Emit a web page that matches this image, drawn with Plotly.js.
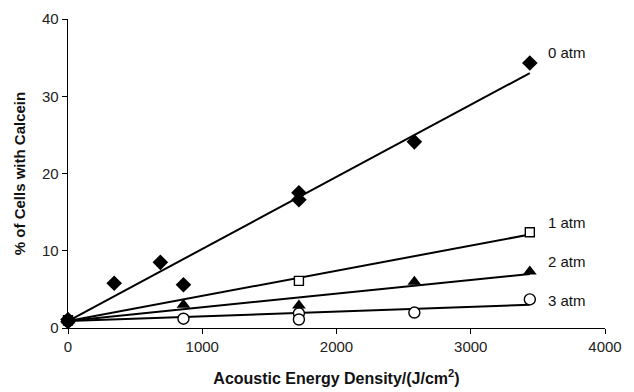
<!DOCTYPE html>
<html>
<head>
<meta charset="utf-8">
<script src="https://cdn.plot.ly/plotly-3.0.1.min.js"></script>
<style>html,body{margin:0;padding:0;background:#fff}#chart{width:634px;height:392px}</style>
</head>
<body>
<div id="chart"></div>
<script>
// Measured points
const x0 = [0, 0, 344, 688, 860, 1720, 1720, 2580, 3440];
const y0 = [1.1, 0.8, 5.8, 8.5, 5.6, 17.5, 16.6, 24.1, 34.3];
const x1 = [0, 1720, 3440];
const y1 = [1.0, 6.1, 12.4];
const x2 = [0, 860, 1720, 2580, 3440];
const y2 = [1.0, 3.0, 2.9, 6.0, 7.3];
const x3 = [0, 860, 1720, 1720, 2580, 3440];
const y3 = [0.9, 1.2, 1.9, 1.1, 2.0, 3.7];
// Linear trend lines (endpoints)
const fitX = [0, 3440];
const fit0 = [0.9, 33.0];
const fit1 = [0.9, 12.1];
const fit2 = [0.9, 7.0];
const fit3 = [0.9, 3.0];
const labels = ["0 atm", "1 atm", "2 atm", "3 atm"];
const labelY = [35.6, 13.6, 8.6, 3.6];
const labelX = 3560;

const lineStyle = {color: '#000', width: 2};
function fit(y) {
  return {x: fitX, y: y, mode: 'lines', line: lineStyle, showlegend: false, hoverinfo: 'skip', cliponaxis: false};
}
function pts(x, y, sym, size, open) {
  return {x: x, y: y, mode: 'markers', showlegend: false, cliponaxis: false,
    marker: {symbol: sym, size: size, color: open ? '#fff' : '#000',
      line: {color: '#000', width: open ? 1.4 : 0}}};
}
const data = [
  fit(fit0), fit(fit1), fit(fit2), fit(fit3),
  pts(x3, y3, 'circle', 11, true),
  pts(x1, y1, 'square', 9, true),
  pts(x2, y2, 'triangle-up', 12, false),
  pts(x0, y0, 'diamond', 12, false)
];
const font = {family: 'Liberation Sans, Arial, sans-serif', color: '#222', size: 15};
const layout = {
  width: 634, height: 392,
  margin: {l: 68, r: 29, t: 19, b: 64},
  paper_bgcolor: '#fff', plot_bgcolor: '#fff',
  font: font,
  showlegend: false,
  xaxis: {
    range: [0, 4000], tickvals: [0, 1000, 2000, 3000, 4000],
    showgrid: false, zeroline: false, showline: true, linecolor: '#000', linewidth: 1.3,
    ticks: 'outside', ticklen: 5, tickcolor: '#000', tickfont: font,
    title: {text: '<b>Acoustic Energy Density/(J/cm<sup>2</sup>)</b>', font: {family: font.family, size: 16, color: '#111'}, standoff: 18}
  },
  yaxis: {
    range: [0, 40], tickvals: [0, 10, 20, 30, 40],
    showgrid: false, zeroline: false, showline: true, linecolor: '#000', linewidth: 1.3,
    ticks: 'outside', ticklen: 5, tickcolor: '#000', tickfont: font,
    title: {text: '<b>% of Cells with Calcein</b>', font: {family: font.family, size: 15, color: '#111'}, standoff: 12}
  },
  annotations: labels.map((t, i) => ({
    x: labelX, y: labelY[i], text: t, showarrow: false, xanchor: 'left', yanchor: 'middle',
    font: {family: font.family, size: 15, color: '#111'}
  }))
};
Plotly.newPlot('chart', data, layout, {displayModeBar: false, staticPlot: true});
</script>
</body>
</html>
